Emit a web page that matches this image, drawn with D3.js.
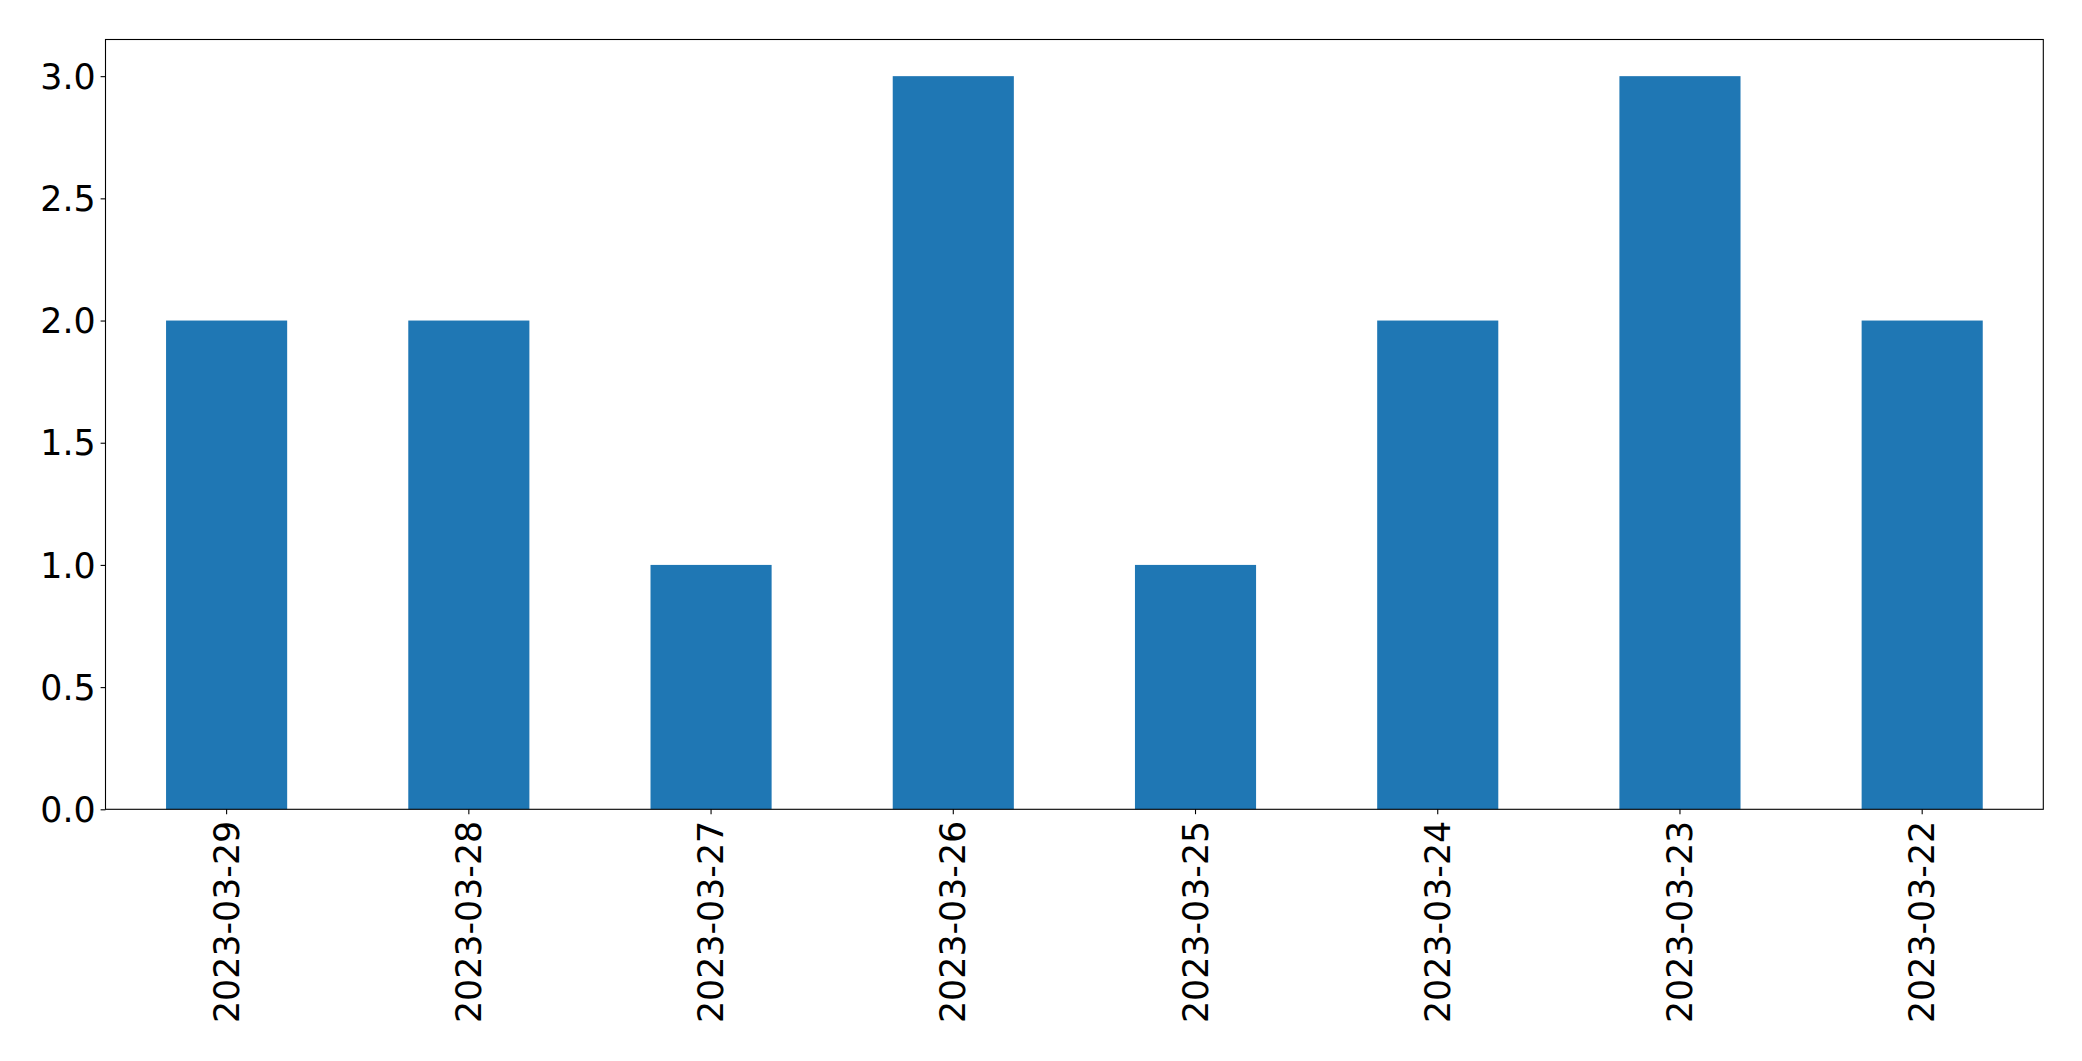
<!DOCTYPE html>
<html>
<head>
<meta charset="utf-8">
<script src="https://cdn.jsdelivr.net/npm/d3@7"></script>
<style>
html,body{margin:0;padding:0;background:#fff;}
svg{display:block;}
text{font-family:"DejaVu Sans",sans-serif;fill:#000;}
</style>
</head>
<body>
<svg id="chart" width="2082" height="1061"></svg>
<script>
const categories = ["2023-03-29","2023-03-28","2023-03-27","2023-03-26","2023-03-25","2023-03-24","2023-03-23","2023-03-22"];
const values = [2, 2, 1, 3, 1, 2, 3, 2];
const yTicks = [0, 0.5, 1.0, 1.5, 2.0, 2.5, 3.0];

(function () {
const svg = d3.select("#chart");
const mLeft = 105.5, mRight = 2043.3, mTop = 39.5, mBottom = 809.3;
const fontSize = 34.8;

const x = d3.scaleBand().domain(categories).range([mLeft, mRight]).paddingInner(0.5).paddingOuter(0.25);
const y = d3.scaleLinear().domain([0, 3.15]).range([mBottom, mTop]);

svg.append("g").selectAll("rect").data(values).join("rect")
  .attr("x", (d, i) => x(categories[i]))
  .attr("y", d => y(d))
  .attr("width", x.bandwidth())
  .attr("height", d => y(0) - y(d))
  .attr("fill", "#1f77b4");

const yAxis = svg.append("g").attr("transform", `translate(${mLeft},0)`)
  .call(d3.axisLeft(y).tickValues(yTicks).tickFormat(d3.format(".1f")).tickSizeOuter(0).tickSize(4.9).tickPadding(4.9));
yAxis.select(".domain").remove();
yAxis.selectAll("line").attr("stroke", "#000").attr("stroke-width", 1.1);
yAxis.selectAll("text").attr("font-size", fontSize).attr("font-family", "DejaVu Sans").attr("dy", "0.35em");

const xAxis = svg.append("g").attr("transform", `translate(0,${mBottom})`)
  .call(d3.axisBottom(x).tickSizeOuter(0).tickSize(4.9).tickPadding(4.9));
xAxis.select(".domain").remove();
xAxis.selectAll("line").attr("stroke", "#000").attr("stroke-width", 1.1);
xAxis.selectAll("text")
  .attr("font-size", fontSize).attr("font-family", "DejaVu Sans")
  .attr("text-anchor", "end")
  .attr("transform", "translate(0,11.5) rotate(-90)")
  .attr("x", 0).attr("y", 0).attr("dy", "0.35em");

svg.append("rect").attr("x", mLeft).attr("y", mTop).attr("width", mRight - mLeft).attr("height", mBottom - mTop)
  .attr("fill", "none").attr("stroke", "#000").attr("stroke-width", 1.1);
})();
</script>
</body>
</html>
